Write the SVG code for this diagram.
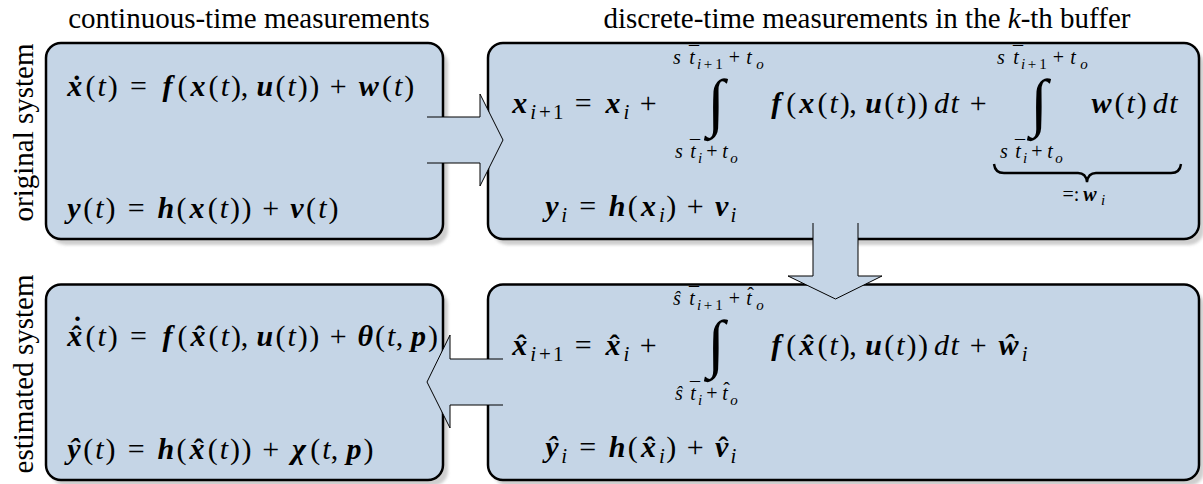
<svg xmlns="http://www.w3.org/2000/svg" width="1203" height="484" viewBox="0 0 1203 484">
<style>
.box{fill:#c5d5e6;stroke:#000;stroke-width:2.5}
.shd{fill:#cfcfcf;filter:url(#blur)}
.arf{fill:#c5d5e6;stroke:none}
.arl{fill:none;stroke:#000;stroke-width:1;stroke-linejoin:miter}
.brace{fill:none;stroke:#000;stroke-width:2.4}
.lbl{font-family:'Liberation Serif',serif;font-size:29px;fill:#000}
.m{font-family:'Liberation Serif',serif;font-size:30px;text-anchor:middle;fill:#000}
.l{font-family:'Liberation Serif',serif;font-size:20px;text-anchor:middle;fill:#000}
.int{font-family:'Liberation Serif',serif;font-size:64px;text-anchor:middle;fill:#000}
.b{font-weight:bold;font-style:italic}
.i{font-style:italic}
.s{font-size:21px}
.ss{font-size:15px}
</style>
<defs>
<filter id="blur" x="-5%" y="-5%" width="110%" height="115%"><feGaussianBlur stdDeviation="1.5"/></filter>
</defs>
<text class="lbl" x="249" y="28" text-anchor="middle">continuous-time measurements</text>
<text class="lbl" x="867" y="28" text-anchor="middle">discrete-time measurements in the <tspan class="i">k</tspan>-th buffer</text>
<text class="lbl" text-anchor="middle" transform="translate(33,132.5) rotate(-90)">original system</text>
<text class="lbl" text-anchor="middle" transform="translate(33,374) rotate(-90)">estimated system</text>

<g id="node-orig-cont">
<rect class="shd" x="51" y="49" width="397" height="196" rx="15"/>
<rect class="box" x="46" y="43" width="397" height="196" rx="15"/>
<text class="m" y="96"><tspan x="74.8" class="b">x</tspan><tspan x="76.8" font-weight="bold">˙</tspan><tspan x="90.4">(</tspan><tspan x="101.6" class="i">t</tspan><tspan x="112.7">)</tspan><tspan x="138.4">=</tspan><tspan x="167.4" class="b">f</tspan><tspan x="182.4">(</tspan><tspan x="198" class="b">x</tspan><tspan x="213.6">(</tspan><tspan x="224.8" class="i">t</tspan><tspan x="235.9">)</tspan><tspan x="244.5">,</tspan><tspan x="264.8" class="b">u</tspan><tspan x="280.4">(</tspan><tspan x="291.6" class="i">t</tspan><tspan x="302.7">)</tspan><tspan x="314.3">)</tspan><tspan x="338.3">+</tspan><tspan x="368.8" class="b">w</tspan><tspan x="386.9">(</tspan><tspan x="398.1" class="i">t</tspan><tspan x="409.2">)</tspan></text>
<text class="m" y="218"><tspan x="73.8" class="b">y</tspan><tspan x="88.3">(</tspan><tspan x="99.5" class="i">t</tspan><tspan x="110.6">)</tspan><tspan x="136.3">=</tspan><tspan x="165.9" class="b">h</tspan><tspan x="181.5">(</tspan><tspan x="197.1" class="b">x</tspan><tspan x="212.7">(</tspan><tspan x="223.9" class="i">t</tspan><tspan x="235">)</tspan><tspan x="246.6">)</tspan><tspan x="270.6">+</tspan><tspan x="297" class="b">v</tspan><tspan x="311.1">(</tspan><tspan x="322.3" class="i">t</tspan><tspan x="333.4">)</tspan></text>
</g>

<g id="node-orig-disc">
<rect class="shd" x="493" y="49" width="711" height="196" rx="15"/>
<rect class="box" x="488" y="43" width="711" height="196" rx="15"/>
<text class="m" y="113"><tspan x="519.8" class="b">x</tspan><tspan x="533.2" y="119" class="s i">i</tspan><tspan x="544.9" class="s">+</tspan><tspan x="558.2" class="s">1</tspan><tspan x="583.3" y="113">=</tspan><tspan x="612.9" class="b">x</tspan><tspan x="626.3" y="119" class="s i">i</tspan><tspan x="648.1" y="113">+</tspan><tspan x="776.2" class="b">f</tspan><tspan x="791.2">(</tspan><tspan x="806.8" class="b">x</tspan><tspan x="822.4">(</tspan><tspan x="833.6" class="i">t</tspan><tspan x="844.7">)</tspan><tspan x="853">,</tspan><tspan x="873.6" class="b">u</tspan><tspan x="889.2">(</tspan><tspan x="900.4" class="i">t</tspan><tspan x="911.5">)</tspan><tspan x="923.1">)</tspan><tspan x="941.6" class="i">d</tspan><tspan x="954.7" class="i">t</tspan><tspan x="978.2">+</tspan><tspan x="1101.4" class="b">w</tspan><tspan x="1119.5">(</tspan><tspan x="1130.7" class="i">t</tspan><tspan x="1141.8">)</tspan><tspan x="1160.3" class="i">d</tspan><tspan x="1173.4" class="i">t</tspan></text>
<text class="int" x="716" y="124">∫</text>
<text class="int" x="1039" y="124">∫</text>
<text class="l" y="64"><tspan x="677" class="i">s</tspan><tspan x="692" class="i">t</tspan><tspan x="694" y="61">¯</tspan><tspan x="699" y="69" class="ss i">i</tspan><tspan x="708" class="ss">+</tspan><tspan x="719" class="ss">1</tspan><tspan x="734.5" y="64">+</tspan><tspan x="749" class="i">t</tspan><tspan x="760" y="69" class="ss i">o</tspan></text>
<text class="l" y="158"><tspan x="679" class="i">s</tspan><tspan x="693" class="i">t</tspan><tspan x="695" y="155">¯</tspan><tspan x="700" y="163" class="ss i">i</tspan><tspan x="712" y="158">+</tspan><tspan x="725" class="i">t</tspan><tspan x="734" y="163" class="ss i">o</tspan></text>
<text class="l" y="64"><tspan x="1001" class="i">s</tspan><tspan x="1016" class="i">t</tspan><tspan x="1018" y="61">¯</tspan><tspan x="1023" y="69" class="ss i">i</tspan><tspan x="1032" class="ss">+</tspan><tspan x="1043" class="ss">1</tspan><tspan x="1058.5" y="64">+</tspan><tspan x="1073" class="i">t</tspan><tspan x="1084" y="69" class="ss i">o</tspan></text>
<text class="l" y="158"><tspan x="1004" class="i">s</tspan><tspan x="1018" class="i">t</tspan><tspan x="1020" y="155">¯</tspan><tspan x="1025" y="163" class="ss i">i</tspan><tspan x="1037" y="158">+</tspan><tspan x="1050" class="i">t</tspan><tspan x="1059" y="163" class="ss i">o</tspan></text>
<path class="brace" d="M994,164 Q995,173 1004,173 L1078,173 Q1086,173 1087,182 Q1088,173 1096,173 L1171,173 Q1180,173 1181,164"/>
<text class="l" y="201"><tspan x="1071">=:</tspan><tspan x="1090" class="b">w</tspan><tspan x="1103" y="205" class="ss i">i</tspan></text>
<text class="m" y="216"><tspan x="551.8" class="b">y</tspan><tspan x="564.1" y="222" class="s i">i</tspan><tspan x="587.6" y="216">=</tspan><tspan x="617.2" class="b">h</tspan><tspan x="632.8">(</tspan><tspan x="648.4" class="b">x</tspan><tspan x="661.8" y="222" class="s i">i</tspan><tspan x="671.2" y="216">)</tspan><tspan x="695.2">+</tspan><tspan x="721.6" class="b">v</tspan><tspan x="733.5" y="222" class="s i">i</tspan></text>
</g>

<g id="node-est-cont">
<rect class="shd" x="51" y="290" width="397" height="196" rx="15"/>
<rect class="box" x="46" y="284.5" width="397" height="195.5" rx="15"/>
<text class="m" y="346"><tspan x="74.8" class="b">x</tspan><tspan x="76.5" font-weight="bold">ˆ</tspan><tspan x="77.5" y="337" font-weight="bold">˙</tspan><tspan x="90.4" y="346">(</tspan><tspan x="101.6" class="i">t</tspan><tspan x="112.7">)</tspan><tspan x="138.4">=</tspan><tspan x="167.4" class="b">f</tspan><tspan x="182.4">(</tspan><tspan x="198" class="b">x</tspan><tspan x="199.7" font-weight="bold">ˆ</tspan><tspan x="213.6">(</tspan><tspan x="224.8" class="i">t</tspan><tspan x="235.9">)</tspan><tspan x="244.5">,</tspan><tspan x="264.8" class="b">u</tspan><tspan x="280.4">(</tspan><tspan x="291.6" class="i">t</tspan><tspan x="302.7">)</tspan><tspan x="314.3">)</tspan><tspan x="338.3">+</tspan><tspan x="365.3" class="b">θ</tspan><tspan x="380">(</tspan><tspan x="391.2" class="i">t</tspan><tspan x="399.5">,</tspan><tspan x="418.6" class="b">p</tspan><tspan x="433.1">)</tspan></text>
<text class="m" y="459"><tspan x="73.8" class="b">ŷ</tspan><tspan x="88.3">(</tspan><tspan x="99.5" class="i">t</tspan><tspan x="110.6">)</tspan><tspan x="136.3">=</tspan><tspan x="165.9" class="b">h</tspan><tspan x="181.5">(</tspan><tspan x="197.1" class="b">x</tspan><tspan x="198.8" font-weight="bold">ˆ</tspan><tspan x="212.7">(</tspan><tspan x="223.9" class="i">t</tspan><tspan x="235">)</tspan><tspan x="246.6">)</tspan><tspan x="270.6">+</tspan><tspan x="299.1" class="b">χ</tspan><tspan x="315.3">(</tspan><tspan x="326.5" class="i">t</tspan><tspan x="334.5">,</tspan><tspan x="353.9" class="b">p</tspan><tspan x="368.4">)</tspan></text>
</g>

<g id="node-est-disc">
<rect class="shd" x="493" y="290" width="711" height="196" rx="15"/>
<rect class="box" x="488" y="284.5" width="711" height="195.5" rx="15"/>
<text class="m" y="355"><tspan x="519.8" class="b">x</tspan><tspan x="521.5" font-weight="bold">ˆ</tspan><tspan x="533.2" y="361" class="s i">i</tspan><tspan x="544.9" class="s">+</tspan><tspan x="558.2" class="s">1</tspan><tspan x="583.3" y="355">=</tspan><tspan x="612.9" class="b">x</tspan><tspan x="614.6" font-weight="bold">ˆ</tspan><tspan x="626.3" y="361" class="s i">i</tspan><tspan x="648.1" y="355">+</tspan><tspan x="776.2" class="b">f</tspan><tspan x="791.2">(</tspan><tspan x="806.8" class="b">x</tspan><tspan x="808.5" font-weight="bold">ˆ</tspan><tspan x="822.4">(</tspan><tspan x="833.6" class="i">t</tspan><tspan x="844.7">)</tspan><tspan x="853">,</tspan><tspan x="873.6" class="b">u</tspan><tspan x="889.2">(</tspan><tspan x="900.4" class="i">t</tspan><tspan x="911.5">)</tspan><tspan x="923.1">)</tspan><tspan x="941.6" class="i">d</tspan><tspan x="954.7" class="i">t</tspan><tspan x="978.2">+</tspan><tspan x="1008.7" class="b">ŵ</tspan><tspan x="1024.6" y="361" class="s i">i</tspan></text>
<text class="int" x="716" y="365">∫</text>
<text class="l" y="305"><tspan x="677" class="i">ŝ</tspan><tspan x="692" class="i">t</tspan><tspan x="694" y="302">¯</tspan><tspan x="699" y="310" class="ss i">i</tspan><tspan x="708" class="ss">+</tspan><tspan x="719" class="ss">1</tspan><tspan x="734.5" y="305">+</tspan><tspan x="749" class="i">t</tspan><tspan x="750.5" y="302">ˆ</tspan><tspan x="760" y="310" class="ss i">o</tspan></text>
<text class="l" y="400"><tspan x="679" class="i">ŝ</tspan><tspan x="693" class="i">t</tspan><tspan x="695" y="397">¯</tspan><tspan x="700" y="405" class="ss i">i</tspan><tspan x="712" y="400">+</tspan><tspan x="725" class="i">t</tspan><tspan x="726.5" y="397">ˆ</tspan><tspan x="734" y="405" class="ss i">o</tspan></text>
<text class="m" y="457"><tspan x="551.8" class="b">ŷ</tspan><tspan x="564.1" y="463" class="s i">i</tspan><tspan x="587.6" y="457">=</tspan><tspan x="617.2" class="b">h</tspan><tspan x="632.8">(</tspan><tspan x="648.4" class="b">x</tspan><tspan x="650.1" font-weight="bold">ˆ</tspan><tspan x="661.8" y="463" class="s i">i</tspan><tspan x="671.2" y="457">)</tspan><tspan x="695.2">+</tspan><tspan x="721.6" class="b">v</tspan><tspan x="723.3" font-weight="bold">ˆ</tspan><tspan x="733.5" y="463" class="s i">i</tspan></text>
</g>

<g id="connectors">
<polygon class="arf" points="427,117 480,117 480,94 503,140 480,186 480,163 427,163"/>
<polyline class="arl" points="427,117 480,117 480,94 503,140 480,186 480,163 427,163"/>
<polygon class="arf" points="813,223 813,276 788,276 835.5,299 882,276 858,276 858,223"/>
<polyline class="arl" points="813,223 813,276 788,276 835.5,299 882,276 858,276 858,223"/>
<polygon class="arf" points="503,359 450,359 450,335 427,382 450,428 450,405 503,405"/>
<polyline class="arl" points="503,359 450,359 450,335 427,382 450,428 450,405 503,405"/>
</g>
</svg>
